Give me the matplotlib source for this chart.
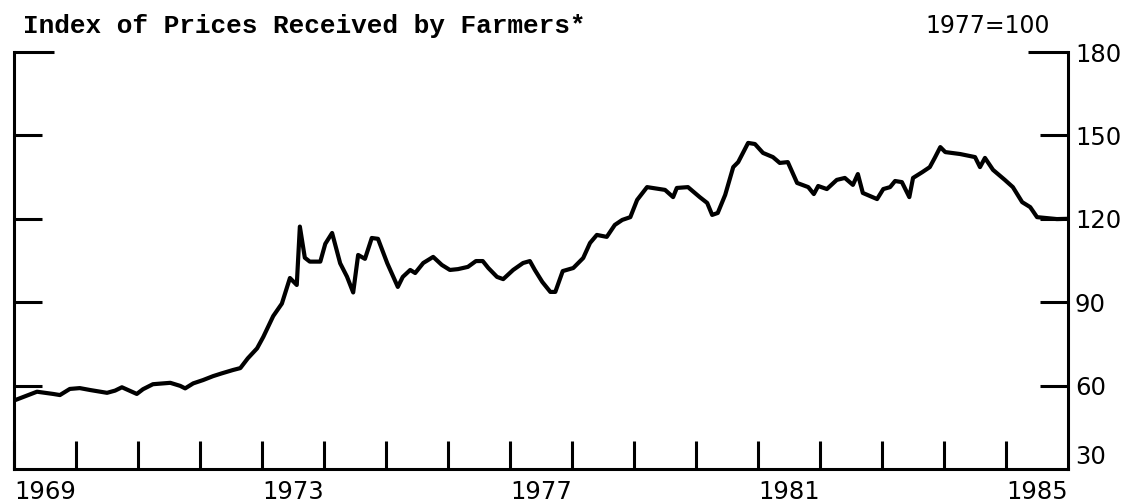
import matplotlib
matplotlib.use("Agg")
import matplotlib.pyplot as plt
from matplotlib.ticker import FixedLocator

# 농가 수취가격지수 (1977=100), 연도 소수 표기
years = [
    1969.02, 1969.37, 1969.63, 1969.74, 1969.90, 1970.06, 1970.23, 1970.50,
    1970.63, 1970.74, 1970.84, 1970.98, 1971.08, 1971.24, 1971.52, 1971.68,
    1971.76, 1971.89, 1972.05, 1972.21, 1972.35, 1972.53, 1972.65, 1972.77,
    1972.92, 1973.02, 1973.18, 1973.32, 1973.45, 1973.56, 1973.61, 1973.69,
    1973.77, 1973.94, 1974.02, 1974.13, 1974.26, 1974.37, 1974.47, 1974.55,
    1974.66, 1974.77, 1974.87, 1975.02, 1975.19, 1975.27, 1975.39, 1975.47,
    1975.60, 1975.76, 1975.90, 1976.03, 1976.16, 1976.32, 1976.45, 1976.56,
    1976.65, 1976.79, 1976.89, 1977.05, 1977.21, 1977.32, 1977.40, 1977.52,
    1977.65, 1977.73, 1977.85, 1978.02, 1978.18, 1978.29, 1978.40, 1978.56,
    1978.69, 1978.81, 1978.94, 1979.05, 1979.21, 1979.50, 1979.63, 1979.69,
    1979.87, 1980.06, 1980.18, 1980.26, 1980.35, 1980.47, 1980.60, 1980.68,
    1980.84, 1980.95, 1981.08, 1981.24, 1981.35, 1981.48, 1981.63, 1981.81,
    1981.90, 1981.97, 1982.11, 1982.27, 1982.40, 1982.53, 1982.61, 1982.69,
    1982.92, 1983.02, 1983.13, 1983.21, 1983.32, 1983.44, 1983.50, 1983.65,
    1983.77, 1983.85, 1983.94, 1984.02, 1984.26, 1984.50, 1984.58, 1984.66,
    1984.79, 1984.98, 1985.11, 1985.26, 1985.39, 1985.50, 1985.82, 1986.00,
]
index = [
    54.8, 57.8, 57.0, 56.6, 58.8, 59.1, 58.4, 57.4,
    58.2, 59.4, 58.4, 57.0, 58.7, 60.5, 61.0, 59.9,
    59.0, 60.8, 62.0, 63.4, 64.4, 65.6, 66.3, 69.8,
    73.4, 77.5, 85.0, 89.5, 98.7, 96.2, 117.2, 106.0,
    104.6, 104.6, 111.0, 114.9, 104.0, 99.2, 93.5, 107.0,
    105.6, 113.1, 112.8, 104.0, 95.5, 99.1, 101.6, 100.5,
    104.1, 106.3, 103.4, 101.6, 101.9, 102.7, 104.8, 104.8,
    102.3, 99.1, 98.3, 101.6, 104.1, 104.8, 101.6, 97.3,
    93.7, 93.7, 101.2, 102.3, 105.9, 111.3, 114.2, 113.5,
    117.8, 119.6, 120.6, 126.8, 131.4, 130.4, 127.8, 131.1,
    131.4, 127.8, 125.7, 121.4, 122.1, 128.6, 138.6, 140.4,
    147.3, 146.9, 143.7, 142.2, 140.1, 140.4, 132.9, 131.4,
    128.9, 131.8, 130.7, 134.0, 134.7, 132.2, 136.1, 129.3,
    127.1, 130.7, 131.4, 133.6, 133.2, 127.8, 134.7, 136.8,
    138.6, 141.9, 145.8, 144.0, 143.3, 142.2, 138.6, 141.9,
    137.6, 134.0, 131.4, 126.0, 124.2, 120.6, 119.9, 120.0,
]

year_ticks = list(range(1969, 1986))
year_labels = [1969, 1973, 1977, 1981, 1985]
y_ticks = [30, 60, 90, 120, 150]
y_top = 180

title = "Index of Prices Received by Farmers*"
base_note = "1977=100"

fig = plt.figure(figsize=(11.32, 5.03), dpi=100)
ax = fig.add_axes([0.0124, 0.0676, 0.9311, 0.829])

ax.plot(years, index, color="black", lw=3.0, solid_joinstyle="round",
        solid_capstyle="butt")

ax.set_xlim(1969, 1986)
ax.set_ylim(30, 180)

# 테두리: 위쪽 없음
ax.spines["top"].set_visible(False)
for s in ("left", "right", "bottom"):
    ax.spines[s].set_linewidth(2.2)
    ax.spines[s].set_capstyle("projecting")

# x축 눈금: 매년 안쪽 세로선, 라벨은 4년마다 왼쪽 정렬
ax.xaxis.set_major_locator(FixedLocator(year_labels))
ax.xaxis.set_minor_locator(FixedLocator(year_ticks))
ax.set_xticklabels([str(y) for y in year_labels])
ax.tick_params(axis="x", which="both", direction="in", length=20, width=2.2,
               top=False, bottom=True)
ax.tick_params(axis="x", which="major", labelsize=17.5, pad=8)
for lab in ax.get_xticklabels():
    lab.set_horizontalalignment("left")

# y축 눈금: 양쪽 안쪽, 라벨은 오른쪽
ax.yaxis.set_major_locator(FixedLocator(y_ticks))
ax.yaxis.set_minor_locator(FixedLocator([y_top]))
ax.tick_params(axis="y", which="both", direction="in", width=2.2,
               left=True, right=True, labelleft=False, labelright=True)
ax.tick_params(axis="y", which="major", length=20, labelsize=17.5, pad=5)
ax.tick_params(axis="y", which="minor", length=29, labelsize=17.5, pad=5)
ax.yaxis.set_minor_formatter(lambda v, p: f"{v:.0f}")
ax.yaxis.set_major_formatter(lambda v, p: f"{v:.0f}")
# 맨 아래 30 라벨은 축선 위로 올림
t30 = ax.yaxis.get_major_ticks()[0]
t30.tick1line.set_visible(False)
t30.tick2line.set_visible(False)
t30.label2.set_verticalalignment("bottom")

fig.text(0.0203, 0.9344, title, family="Liberation Mono", weight="bold",
         fontsize=18.8, ha="left", va="baseline")
fig.text(0.9276, 0.9344, base_note, fontsize=17, ha="right", va="baseline")

fig.savefig("out.png", dpi=100)
